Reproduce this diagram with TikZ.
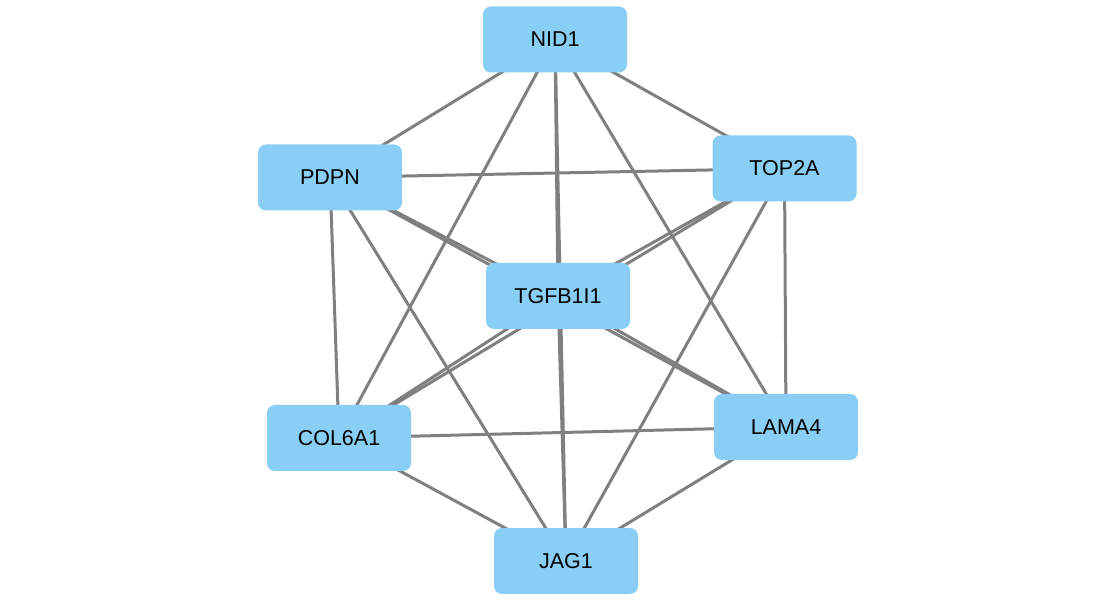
\documentclass[tikz,border=0pt]{standalone}
\usepackage{fontspec}
\setmainfont{Liberation Sans}
\begin{document}
\begin{tikzpicture}[x=1pt,y=-1pt,
  gene/.style={draw=none,fill=nodeblue,rounded corners=8pt,minimum width=144pt,minimum height=66pt,font=\fontsize{21.5}{25}\selectfont,inner sep=0pt},
  edge/.style={draw=edgegray,line width=3pt}]
\definecolor{nodeblue}{HTML}{89CFF5}
\definecolor{edgegray}{HTML}{808080}
\useasboundingbox (0,0) rectangle (1117,601);
\coordinate (cNID1) at (555,39.5);
\coordinate (cTOP2A) at (784.5,168.5);
\coordinate (cPDPN) at (330,177.5);
\coordinate (cTGFB1I1) at (558,296);
\coordinate (cCOL6A1) at (339,438);
\coordinate (cLAMA4) at (786,427);
\coordinate (cJAG1) at (566,561);
\foreach \a/\b in {NID1/PDPN,NID1/TOP2A,NID1/TGFB1I1,NID1/COL6A1,NID1/LAMA4,NID1/JAG1,
  PDPN/TOP2A,PDPN/TGFB1I1,PDPN/COL6A1,PDPN/LAMA4,PDPN/JAG1,
  TOP2A/TGFB1I1,TOP2A/COL6A1,TOP2A/LAMA4,TOP2A/JAG1,
  TGFB1I1/COL6A1,TGFB1I1/LAMA4,TGFB1I1/JAG1,
  COL6A1/LAMA4,COL6A1/JAG1,LAMA4/JAG1}
  \draw[edge] (c\a) -- (c\b);
\node[gene] (NID1) at (cNID1) {NID1};
\node[gene] (TOP2A) at (cTOP2A) {TOP2A};
\node[gene] (PDPN) at (cPDPN) {PDPN};
\node[gene] (TGFB1I1) at (cTGFB1I1) {TGFB1I1};
\node[gene] (COL6A1) at (cCOL6A1) {COL6A1};
\node[gene] (LAMA4) at (cLAMA4) {LAMA4};
\node[gene] (JAG1) at (cJAG1) {JAG1};
\end{tikzpicture}
\end{document}
